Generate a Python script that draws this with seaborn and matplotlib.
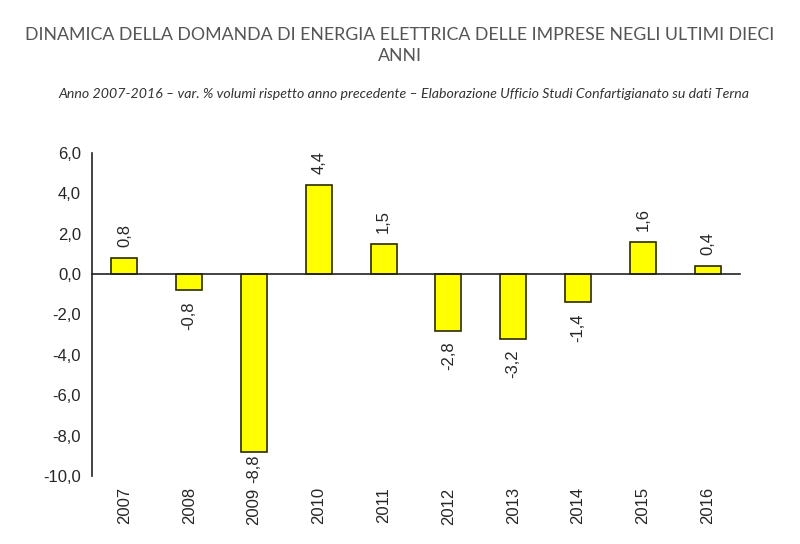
import matplotlib
matplotlib.use("Agg")
import matplotlib.pyplot as plt
import matplotlib.transforms as mtransforms
import seaborn as sns
import pandas as pd

years = ["2007", "2008", "2009", "2010", "2011", "2012", "2013", "2014", "2015", "2016"]
values = [0.8, -0.8, -8.8, 4.4, 1.5, -2.8, -3.2, -1.4, 1.6, 0.4]
y_ticks = [6, 4, 2, 0, -2, -4, -6, -8, -10]

title = "DINAMICA DELLA DOMANDA DI ENERGIA ELETTRICA DELLE IMPRESE NEGLI ULTIMI DIECI\nANNI"
subtitle = ("Anno 2007-2016 \u2013 var. % volumi rispetto anno precedente \u2013 "
            "Elaborazione Ufficio Studi Confartigianato su dati Terna")

def fmt(v):
    return f"{v:.1f}".replace(".", ",")

def main():
    sns.set_style("white")
    plt.rcParams["font.family"] = ["Liberation Sans", "DejaVu Sans"]

    df = pd.DataFrame({"anno": years, "var": values})

    fig = plt.figure(figsize=(8, 5.44), dpi=100)
    ax = fig.add_axes([0.115, 0.125, 0.81, 0.594])

    sns.barplot(data=df, x="anno", y="var", color="#ffff00", width=0.4,
                edgecolor="#2b2b00", linewidth=1.2, saturation=1, ax=ax)

    ax.set_ylim(-10, 6)
    ax.set_xlim(-0.5, 9.5)
    ax.set_yticks(y_ticks)
    ax.set_yticklabels([fmt(t) for t in y_ticks], fontsize=12)
    ax.set_xlabel("")
    ax.set_ylabel("")

    # x axis drawn on the zero line, ticks between the categories
    for s in ["top", "right"]:
        ax.spines[s].set_visible(False)
    ax.spines["bottom"].set_position(("data", 0))
    ax.spines["left"].set_color("#222222")
    ax.spines["bottom"].set_color("#222222")
    ax.spines["left"].set_linewidth(1.2)
    ax.spines["bottom"].set_linewidth(1.2)
    ax.set_xticks(range(len(years)))
    ax.set_xticklabels([])
    ax.set_xticks([i + 0.5 for i in range(len(years))], minor=True)
    ax.tick_params(axis="x", which="major", length=0)
    ax.tick_params(axis="x", which="minor", direction="out", length=5, width=1, color="#222222")
    ax.tick_params(axis="y", direction="out", length=5, width=1.2, color="#222222", pad=3)

    # year labels at the bottom of the plot
    trans = mtransforms.blended_transform_factory(ax.transData, ax.transAxes)
    for i, yr in enumerate(years):
        ax.text(i, -0.035, yr, transform=trans, rotation=90, ha="center", va="top", fontsize=12)

    # value labels
    for i, v in enumerate(values):
        if v >= 0:
            ax.annotate(fmt(v), (i, v), xytext=(0, 8), textcoords="offset points",
                        rotation=90, ha="center", va="bottom", fontsize=12)
        else:
            off = -8 if v > -8 else -2
            ax.annotate(fmt(v), (i, v), xytext=(0, off), textcoords="offset points",
                        rotation=90, ha="center", va="top", fontsize=12)

    fig.text(0.5, 0.916, title, ha="center", va="center", fontsize=12.8, color="#555555",
             family=["Lato", "DejaVu Sans"], linespacing=1.35)
    fig.text(0.505, 0.828, subtitle, ha="center", va="center", fontsize=10.2, color="#333333",
             style="italic", family=["Lato", "DejaVu Sans"])

    fig.savefig("out.png", dpi=100)

if __name__ == "__main__":
    main()
